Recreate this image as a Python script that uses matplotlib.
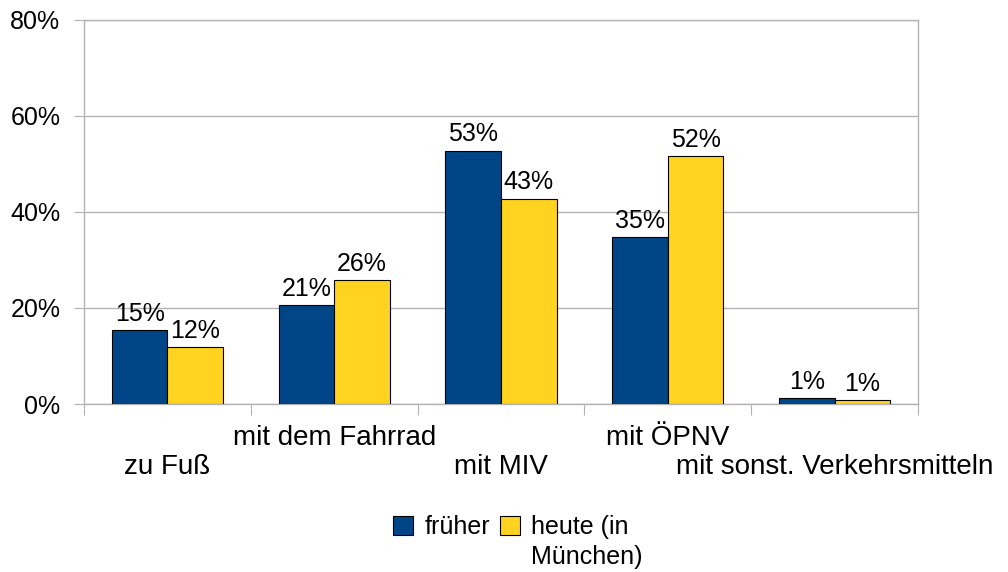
import matplotlib.pyplot as plt
from matplotlib.transforms import blended_transform_factory
import numpy as np

plt.rcParams['font.family'] = ['Liberation Sans', 'DejaVu Sans']

categories = ["zu Fuß", "mit dem Fahrrad", "mit MIV", "mit ÖPNV",
              "mit sonst. Verkehrsmitteln"]
frueher = [15.4, 20.6, 52.8, 34.7, 1.2]
heute = [11.9, 25.9, 42.8, 51.6, 0.8]
series_names = ["früher", "heute (in", "München)"]
yticks = [0, 20, 40, 60, 80]

BLUE = "#004586"
YELLOW = "#ffd320"
GRID = "#b3b3b3"

fig = plt.figure(figsize=(10.08, 5.72), dpi=100)
ax = fig.add_axes([84 / 1008, 1 - 404 / 572, (918 - 84) / 1008, (404 - 20) / 572])

x = np.arange(len(categories))
w = 1 / 3
b1 = ax.bar(x - w / 2, frueher, w, color=BLUE, edgecolor="black", linewidth=0.8,
            label=series_names[0], zorder=3)
b2 = ax.bar(x + w / 2, heute, w, color=YELLOW, edgecolor="black", linewidth=0.8,
            label=series_names[1], zorder=3)

# value labels
for bars, vals in ((b1, frueher), (b2, heute)):
    for rect, v in zip(bars, vals):
        ax.annotate(f"{v:.0f}%", (rect.get_x() + rect.get_width() / 2, v),
                    xytext=(0, 3), textcoords="offset points",
                    ha="center", va="bottom", fontsize=18)

ax.set_xlim(-0.5, len(categories) - 0.5)
ax.set_ylim(0, 80)
ax.set_yticks(yticks)
ax.set_yticklabels([f"{t}%" for t in yticks], fontsize=18)
ax.yaxis.grid(True, color=GRID, linewidth=1, zorder=0)
ax.tick_params(axis="y", length=7, color=GRID, pad=10)

ax.set_xticks(np.arange(len(categories) + 1) - 0.5)
ax.set_xticklabels([])
ax.tick_params(axis="x", length=8, color=GRID)

for s in ax.spines.values():
    s.set_color(GRID)
    s.set_linewidth(1)

# staggered category labels
trans = blended_transform_factory(ax.transData, ax.transAxes)
for i, c in enumerate(categories):
    off = -15 if i % 2 else -36
    ax.annotate(c, (i, 0), xycoords=trans, xytext=(0, off),
                textcoords="offset points", ha="center", va="top", fontsize=20)

leg = fig.legend(loc="upper center", bbox_to_anchor=(0.507, 0.121), ncol=2,
                 frameon=False, fontsize=18, handlelength=0.8, handleheight=0.8,
                 handletextpad=0.45, columnspacing=0.4, borderpad=0)

# wrapped second line of the second legend entry
fig.canvas.draw()
t = leg.get_texts()[1]
bb = t.get_window_extent().transformed(fig.transFigure.inverted())
fig.text(bb.x0, bb.y0 - 6 / 572, series_names[2], fontsize=18, ha="left", va="top")

fig.savefig("out.png", dpi=100)
